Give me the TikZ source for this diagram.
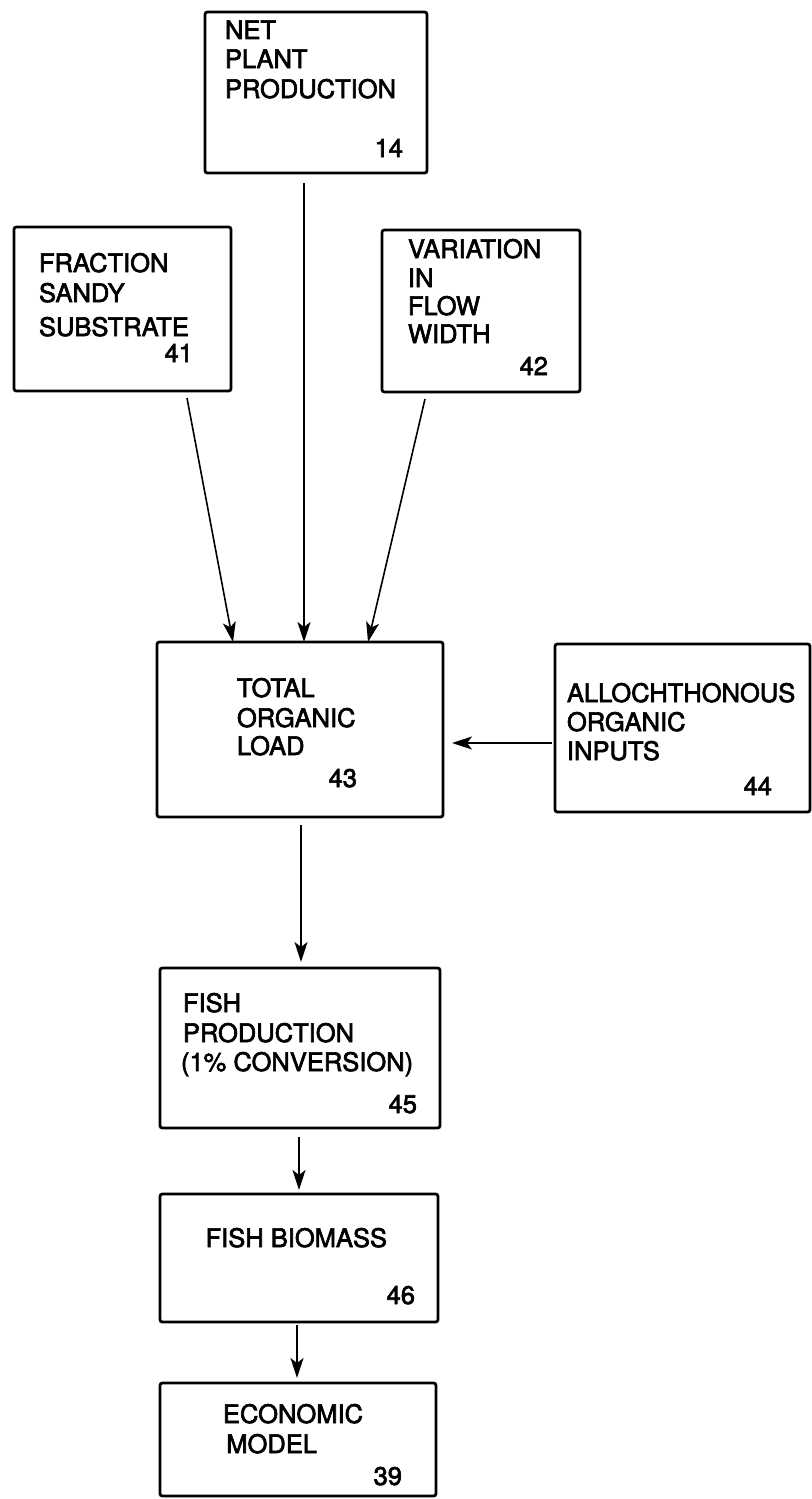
\documentclass[tikz,border=0pt]{standalone}
\usepackage{fontspec}
\setmainfont{TeX Gyre Heros}
\newfontfamily\boxfont{TeX Gyre Heros}[FakeBold=2.5]
\usetikzlibrary{fit,arrows.meta}

\tikzset{
  box/.style={draw, line width=1.4pt, inner sep=0pt, outer sep=0pt, rounded corners=1.2pt},
  lbl/.style={inner sep=0pt, outer sep=0pt, anchor=base west,
              font=\boxfont\fontsize{12.75pt}{15pt}\selectfont},
  num/.style={lbl, anchor=base east},
  flow/.style={line width=0.8pt, -{Stealth[length=10pt,width=6.5pt,inset=2.5pt]}}
}

\begin{document}
\begin{tikzpicture}[x=0.5pt,y=-0.5pt]
\useasboundingbox (0,0) rectangle (811,1499);

% boxes
\node[box, fit={(205,12) (427,173)}]   (n14) {};
\node[box, fit={(14,227) (231,391)}]   (n41) {};
\node[box, fit={(382,230) (580,392)}]  (n42) {};
\node[box, fit={(157,642) (443,817)}]  (n43) {};
\node[box, fit={(555,644) (810,812)}]  (n44) {};
\node[box, fit={(160,968) (440,1128)}] (n45) {};
\node[box, fit={(160,1194) (438,1322)}] (n46) {};
\node[box, fit={(160,1383) (436,1496)}] (n39) {};

% net plant production
\node[lbl] (t14a) at (225,39) {NET};
\node[lbl] (t14b) at (225,68) {PLANT};
\node[lbl] (t14c) at (225,98) {PRODUCTION};
\node[num] (t14n) at (403,157) {14};

% fraction sandy substrate
\node[lbl] (t41a) at (39,272) {FRACTION};
\node[lbl] (t41b) at (39,302) {SANDY};
\node[lbl] (t41c) at (39,336) {SUBSTRATE};
\node[num] (t41n) at (193,362) {41};

% variation in flow width
\node[lbl] (t42a) at (408,258) {VARIATION};
\node[lbl] (t42b) at (408,287) {IN};
\node[lbl] (t42c) at (408,315) {FLOW};
\node[lbl] (t42d) at (408,343) {WIDTH};
\node[num] (t42n) at (548,375) {42};

% total organic load
\node[lbl] (t43a) at (237,697) {TOTAL};
\node[lbl] (t43b) at (237,727) {ORGANIC};
\node[lbl] (t43c) at (237,755) {LOAD};
\node[num] (t43n) at (357,787) {43};

% allochthonous organic inputs
\node[lbl] (t44a) at (567,702) {ALLOCHTHONOUS};
\node[lbl] (t44b) at (567,731) {ORGANIC};
\node[lbl] (t44c) at (567,760) {INPUTS};
\node[num] (t44n) at (772,795) {44};

% fish production
\node[lbl] (t45a) at (183,1012) {FISH};
\node[lbl] (t45b) at (183,1042) {PRODUCTION};
\node[lbl] (t45c) at (181,1071) {(1\% CONVERSION)};
\node[num] (t45n) at (417,1113) {45};

% fish biomass
\node[num] (t46a) at (387,1247) {FISH BIOMASS};
\node[num] (t46n) at (415,1304) {46};

% economic model
\node[num] (t39a) at (363,1423) {ECONOMIC};
\node[num] (t39b) at (317,1453) {MODEL};
\node[num] (t39n) at (402,1485) {39};

% connectors
\draw[flow] ([shift={(-44,7)}]n41.south east) -- ([shift={(76,0)}]n43.north west);
\draw[flow] ([shift={(99,10)}]n14.south west) -- ([shift={(147,0)}]n43.north west);
\draw[flow] ([shift={(43,7)}]n42.south west) -- ([shift={(211,0)}]n43.north west);
\draw[flow] ([shift={(-3,99)}]n44.north west) -- ([shift={(9,101)}]n43.north east);
\draw[flow] ([shift={(144,8)}]n43.south west) -- ([shift={(141,-6)}]n45.north west);
\draw[flow] ([shift={(139,9)}]n45.south west) -- ([shift={(139,-4)}]n46.north west);
\draw[flow] ([shift={(137,3)}]n46.south west) -- ([shift={(137,-5)}]n39.north west);
\end{tikzpicture}
\end{document}
